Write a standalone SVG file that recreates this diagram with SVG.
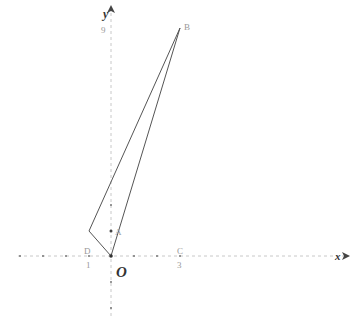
<svg xmlns="http://www.w3.org/2000/svg" width="357" height="320" viewBox="0 0 357 320">
<style>
.ax{stroke:#c8c8c8;stroke-width:1;stroke-dasharray:3 3;fill:none}
.tk{fill:#777}
.tri{stroke:#555;stroke-width:1;fill:none}
.lb{font-family:"Liberation Serif",serif;font-size:9px;fill:#999}
.big{font-family:"Liberation Serif",serif;font-weight:bold;font-style:italic;fill:#333}
</style>
<defs>
<marker id="ar" markerWidth="8" markerHeight="8" refX="7" refY="4" orient="auto" markerUnits="userSpaceOnUse">
<path d="M0,0 L8,4 L0,8 L2,4 Z" fill="#444"/>
</marker>
</defs>
<rect width="357" height="320" fill="#fff"/>
<g id="connectors">
<line class="ax" x1="18" y1="256" x2="349" y2="256" marker-end="url(#ar)"/>
<line class="ax" x1="111" y1="316" x2="111" y2="6" marker-end="url(#ar)"/>
<path class="tri" d="M111,256 L89,231 L180,28 Z"/>
</g>
<g id="ticks">
<circle class="tk" cx="20" cy="256" r="1"/>
<circle class="tk" cx="43" cy="256" r="1"/>
<circle class="tk" cx="66" cy="256" r="1"/>
<circle class="tk" cx="89" cy="256" r="1"/>
<circle class="tk" cx="134" cy="256" r="1"/>
<circle class="tk" cx="157" cy="256" r="1"/>
<circle class="tk" cx="180" cy="256" r="1"/>
<circle class="tk" cx="111" cy="205" r="1"/>
<circle class="tk" cx="111" cy="282" r="1"/>
<circle class="tk" cx="111" cy="308" r="1"/>
<circle cx="111" cy="256" r="1.8" fill="#333"/>
<circle cx="111" cy="231" r="1.5" fill="#444"/>
</g>
<g id="labels">
<text class="big" x="103" y="18" font-size="12">y</text>
<text class="lb" x="101" y="33">9</text>
<text class="lb" x="184" y="30">B</text>
<text class="lb" x="115" y="235" font-size="7">A</text>
<text class="lb" x="84" y="254">D</text>
<text class="lb" x="86" y="268">1</text>
<text class="lb" x="177" y="254">C</text>
<text class="lb" x="177" y="268">3</text>
<text class="big" x="116" y="277" font-size="15">O</text>
<text class="big" x="335" y="260" font-size="11" fill="#444">x</text>
</g>
</svg>
